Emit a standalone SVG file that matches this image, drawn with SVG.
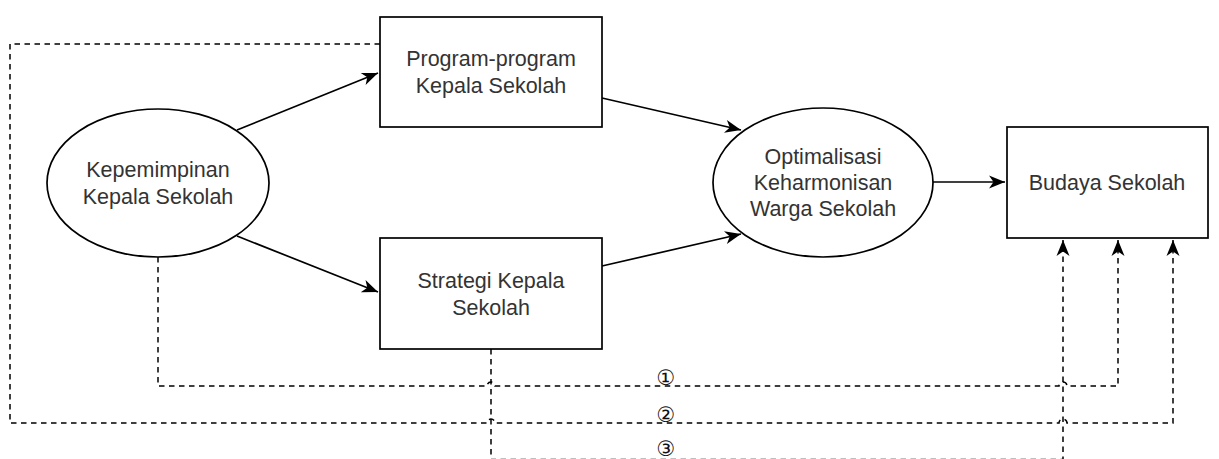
<svg xmlns="http://www.w3.org/2000/svg" width="1219" height="459" viewBox="0 0 1219 459">
<style>
.shape{fill:#fff;stroke:#000;stroke-width:1.7}
.lbl{font-family:"Liberation Sans",Arial,sans-serif;font-size:21.5px;fill:#333;text-anchor:middle}
.num{font-family:"DejaVu Sans",sans-serif;font-size:21px;fill:#111;text-anchor:middle}
.solid{fill:none;stroke:#000;stroke-width:1.7}
.dash{fill:none;stroke:#000;stroke-width:1.5;stroke-dasharray:5.5 4.5}
</style>
<defs>
<marker id="arr" markerUnits="userSpaceOnUse" markerWidth="17" markerHeight="14" refX="16" refY="6.5" orient="auto" overflow="visible">
<path d="M0,0 L16,6.5 L0,13 L4.5,6.5 Z" fill="#000"/>
</marker>
</defs>
<rect width="1219" height="459" fill="#fff"/>
<g id="connectors">
<path class="solid" d="M237,130 L378,73" marker-end="url(#arr)"/>
<path class="solid" d="M237,236 L378,292" marker-end="url(#arr)"/>
<path class="solid" d="M602,98 L741,130" marker-end="url(#arr)"/>
<path class="solid" d="M602,266 L741,234" marker-end="url(#arr)"/>
<path class="solid" d="M933,182 L1005,182" marker-end="url(#arr)"/>
<path class="dash" d="M158,257 V386 H487 A4,4 0 0 1 495,386 H1059 A4,4 0 0 1 1067,386 H1118 V240" marker-end="url(#arr)"/>
<path class="dash" d="M380,44 H10 V423 H487 A4,4 0 0 1 495,423 H1059 A4,4 0 0 1 1067,423 H1173 V240" marker-end="url(#arr)"/>
<path class="dash" d="M491,349 V459.5 H1063 V240" marker-end="url(#arr)"/>
<text class="num" x="666" y="385">①</text>
<text class="num" x="666" y="422">②</text>
<text class="num" x="666" y="456">③</text>
</g>
<g id="kepemimpinan">
<ellipse class="shape" cx="158" cy="183" rx="111" ry="74"/>
<text class="lbl" x="158" y="177">Kepemimpinan</text>
<text class="lbl" x="158" y="204">Kepala Sekolah</text>
</g>
<g id="program">
<rect class="shape" x="380" y="17" width="222" height="110"/>
<text class="lbl" x="491" y="66">Program-program</text>
<text class="lbl" x="491" y="93">Kepala Sekolah</text>
</g>
<g id="strategi">
<rect class="shape" x="380" y="238" width="222" height="111"/>
<text class="lbl" x="491" y="288">Strategi Kepala</text>
<text class="lbl" x="491" y="315">Sekolah</text>
</g>
<g id="optimalisasi">
<ellipse class="shape" cx="823" cy="182.5" rx="110" ry="74.5"/>
<text class="lbl" x="823" y="164">Optimalisasi</text>
<text class="lbl" x="823" y="190">Keharmonisan</text>
<text class="lbl" x="823" y="216">Warga Sekolah</text>
</g>
<g id="budaya">
<rect class="shape" x="1007" y="127" width="201" height="111"/>
<text class="lbl" x="1107" y="190">Budaya Sekolah</text>
</g>
</svg>
